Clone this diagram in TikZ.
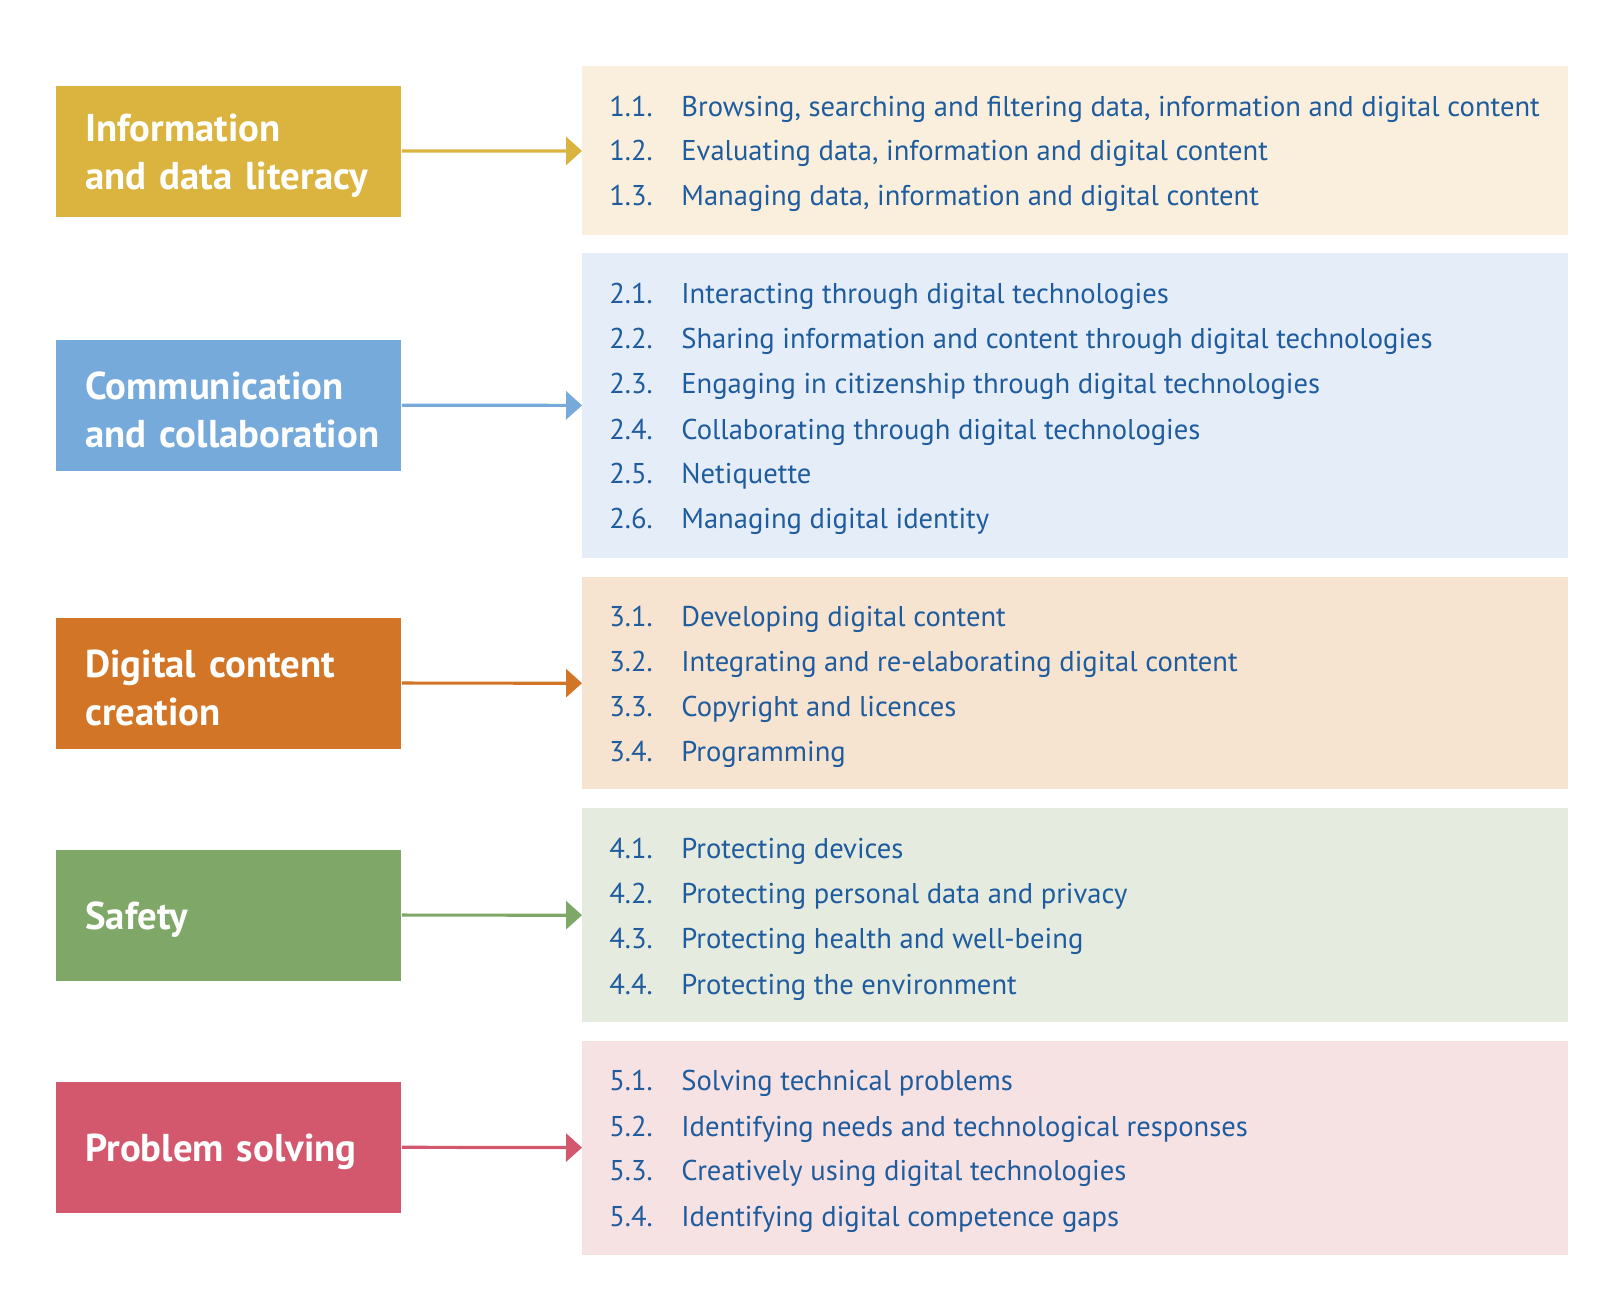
\documentclass[tikz,border=0pt]{standalone}
\usepackage{fontspec}
\setmainfont{PT Sans}
\usetikzlibrary{arrows.meta}

\definecolor{infocol}{HTML}{DAB43F}
\definecolor{commcol}{HTML}{75AADB}
\definecolor{createcol}{HTML}{D27527}
\definecolor{safecol}{HTML}{7EA768}
\definecolor{solvecol}{HTML}{D4586D}
\definecolor{infobg}{HTML}{FAEFDD}
\definecolor{commbg}{HTML}{E5EDF9}
\definecolor{createbg}{HTML}{F6E3D0}
\definecolor{safebg}{HTML}{E6EBE0}
\definecolor{solvebg}{HTML}{F6E1E3}
\definecolor{itemblue}{HTML}{1F5C9E}

\tikzset{
  areabox/.style={fill=#1, anchor=west, minimum height=65.5pt, inner xsep=14.5pt,
    text width=143.5pt, align=left, text=white, font=\fontsize{19.4}{24}\selectfont\bfseries,
    execute at begin node={\hyphenpenalty=10000\rule{0pt}{18.6pt}}},
  listbox/.style={fill=#1, anchor=north west, minimum width=493pt, inner sep=0pt},
  item/.style={anchor=mid west, inner sep=0pt, text=itemblue, font=\fontsize{14.3}{16}\selectfont},
  link/.style={draw=#1, line width=1.6pt, -{Triangle[length=8pt,width=14pt]}}
}
\newcommand{\num}[1]{\makebox[36pt][l]{#1}}

\begin{document}
\begin{tikzpicture}[x=0.5pt,y=-0.5pt]
\def \xleft  {56}
\def \xlist  {582}
\def \xitem  {609}
\useasboundingbox [fill=white] (0,0) rectangle (1600,1306);

% areas
\node [areabox=infocol]   (info)   at (\xleft, 151)  {Information\\and data literacy};
\node [areabox=commcol]   (comm)   at (\xleft, 405)  {Communication\\and~collaboration};
\node [areabox=createcol] (create) at (\xleft, 683)  {Digital content\\creation};
\node [areabox=safecol]   (safe)   at (\xleft, 915)  {Safety};
\node [areabox=solvecol]  (solve)  at (\xleft, 1147) {Problem solving};

% lists
\node [listbox=infobg,   minimum height=84.5pt]  (infolist)   at (\xlist, 66)   {};
\node [listbox=commbg,   minimum height=152.5pt] (commlist)   at (\xlist, 253)  {};
\node [listbox=createbg, minimum height=106pt]   (createlist) at (\xlist, 577)  {};
\node [listbox=safebg,   minimum height=107pt]   (safelist)   at (\xlist, 808)  {};
\node [listbox=solvebg,  minimum height=107pt]   (solvelist)  at (\xlist, 1041) {};

% arrows
\draw [link=infocol]   (info)   -- (infolist);
\draw [link=commcol]   (comm)   -- (commlist);
\draw [link=createcol] (create) -- (createlist);
\draw [link=safecol]   (safe)   -- (safelist);
\draw [link=solvecol]  (solve)  -- (solvelist);

% competences 1
\node [item] (i11) at (\xitem, 111) {\num{1.1.}Browsing, searching and filtering data, information and digital content};
\node [item] (i12) at (\xitem, 155) {\num{1.2.}Evaluating data, information and digital content};
\node [item] (i13) at (\xitem, 200) {\num{1.3.}Managing data, information and digital content};
% competences 2
\node [item] (i21) at (\xitem, 298) {\num{2.1.}Interacting through digital technologies};
\node [item] (i22) at (\xitem, 343) {\num{2.2.}Sharing information and content through digital technologies};
\node [item] (i23) at (\xitem, 388) {\num{2.3.}Engaging in citizenship through digital technologies};
\node [item] (i24) at (\xitem, 434) {\num{2.4.}Collaborating through digital technologies};
\node [item] (i25) at (\xitem, 478) {\num{2.5.}Netiquette};
\node [item] (i26) at (\xitem, 523) {\num{2.6.}Managing digital identity};
% competences 3
\node [item] (i31) at (\xitem, 621) {\num{3.1.}Developing digital content};
\node [item] (i32) at (\xitem, 666) {\num{3.2.}Integrating and re-elaborating digital content};
\node [item] (i33) at (\xitem, 711) {\num{3.3.}Copyright and licences};
\node [item] (i34) at (\xitem, 756) {\num{3.4.}Programming};
% competences 4
\node [item] (i41) at (\xitem, 853) {\num{4.1.}Protecting devices};
\node [item] (i42) at (\xitem, 898) {\num{4.2.}Protecting personal data and privacy};
\node [item] (i43) at (\xitem, 943) {\num{4.3.}Protecting health and well-being};
\node [item] (i44) at (\xitem, 989) {\num{4.4.}Protecting the environment};
% competences 5
\node [item] (i51) at (\xitem, 1085) {\num{5.1.}Solving technical problems};
\node [item] (i52) at (\xitem, 1131) {\num{5.2.}Identifying needs and technological responses};
\node [item] (i53) at (\xitem, 1175) {\num{5.3.}Creatively using digital technologies};
\node [item] (i54) at (\xitem, 1221) {\num{5.4.}Identifying digital competence gaps};

\end{tikzpicture}
\end{document}
